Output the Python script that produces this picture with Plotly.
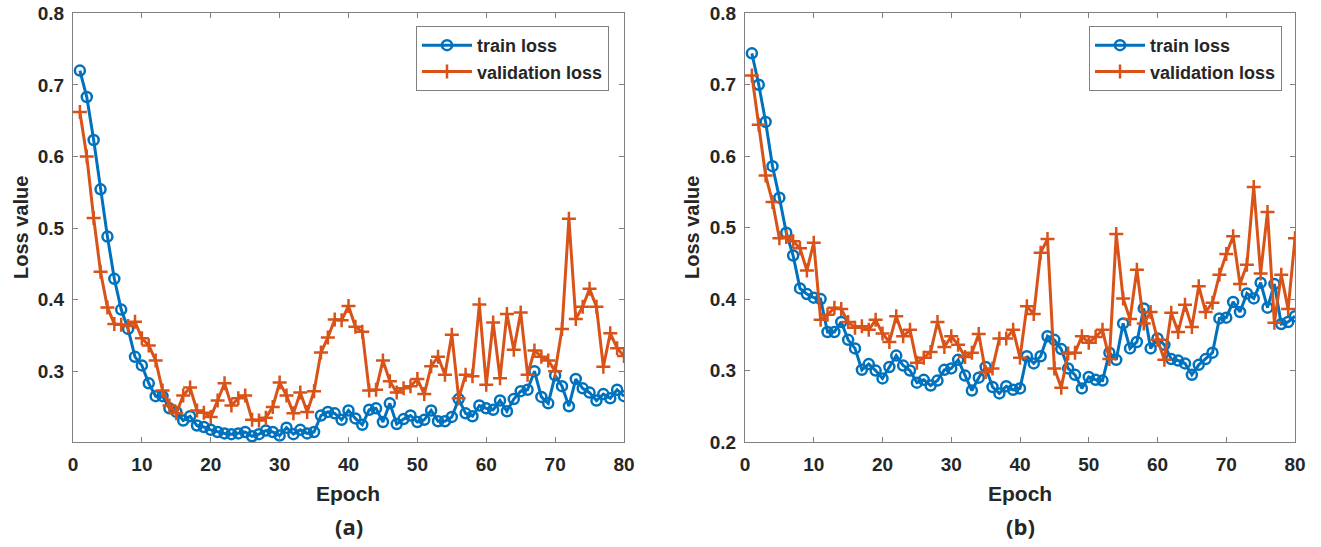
import plotly.graph_objects as go

epochs = list(range(1, 81))

train_a = [0.720, 0.683, 0.623, 0.554, 0.488, 0.429, 0.386, 0.359, 0.320, 0.308,
           0.283, 0.265, 0.265, 0.248, 0.243, 0.231, 0.237, 0.224, 0.222, 0.218,
           0.215, 0.213, 0.212, 0.213, 0.215, 0.209, 0.212, 0.217, 0.215, 0.210,
           0.221, 0.212, 0.218, 0.213, 0.215, 0.238, 0.243, 0.241, 0.232, 0.245,
           0.234, 0.225, 0.246, 0.248, 0.229, 0.255, 0.226, 0.233, 0.238, 0.229,
           0.232, 0.245, 0.230, 0.230, 0.236, 0.261, 0.241, 0.237, 0.252, 0.248,
           0.246, 0.259, 0.244, 0.261, 0.272, 0.274, 0.300, 0.264, 0.255, 0.294,
           0.279, 0.251, 0.289, 0.276, 0.270, 0.259, 0.268, 0.262, 0.274, 0.265]

val_a = [0.662, 0.600, 0.514, 0.439, 0.389, 0.366, 0.365, 0.363, 0.369, 0.346,
         0.336, 0.315, 0.273, 0.252, 0.241, 0.266, 0.277, 0.245, 0.242, 0.236,
         0.259, 0.283, 0.252, 0.262, 0.266, 0.232, 0.231, 0.235, 0.250, 0.284,
         0.266, 0.241, 0.270, 0.243, 0.272, 0.326, 0.347, 0.372, 0.371, 0.391,
         0.362, 0.355, 0.273, 0.274, 0.315, 0.286, 0.270, 0.276, 0.279, 0.289,
         0.268, 0.307, 0.320, 0.295, 0.351, 0.262, 0.295, 0.293, 0.393, 0.281,
         0.368, 0.290, 0.380, 0.330, 0.382, 0.295, 0.329, 0.320, 0.315, 0.300,
         0.359, 0.513, 0.373, 0.390, 0.415, 0.390, 0.306, 0.353, 0.332, 0.321]

train_b = [0.744, 0.700, 0.648, 0.586, 0.542, 0.493, 0.461, 0.415, 0.407, 0.402,
           0.400, 0.354, 0.354, 0.368, 0.343, 0.331, 0.301, 0.309, 0.300, 0.289,
           0.305, 0.321, 0.307, 0.300, 0.283, 0.287, 0.279, 0.286, 0.301, 0.303,
           0.315, 0.293, 0.272, 0.290, 0.305, 0.277, 0.268, 0.278, 0.273, 0.275,
           0.320, 0.310, 0.320, 0.348, 0.343, 0.330, 0.303, 0.294, 0.275, 0.291,
           0.287, 0.286, 0.325, 0.315, 0.366, 0.331, 0.340, 0.387, 0.331, 0.345,
           0.336, 0.316, 0.314, 0.310, 0.294, 0.308, 0.316, 0.325, 0.373, 0.374,
           0.396, 0.382, 0.408, 0.401, 0.423, 0.388, 0.421, 0.365, 0.368, 0.376]

val_b = [0.713, 0.644, 0.573, 0.536, 0.485, 0.487, 0.481, 0.471, 0.440, 0.479,
         0.371, 0.378, 0.388, 0.386, 0.368, 0.360, 0.362, 0.357, 0.371, 0.352,
         0.340, 0.376, 0.348, 0.357, 0.311, 0.318, 0.326, 0.368, 0.333, 0.348,
         0.336, 0.319, 0.325, 0.351, 0.298, 0.303, 0.345, 0.345, 0.357, 0.318,
         0.390, 0.379, 0.465, 0.484, 0.303, 0.276, 0.324, 0.325, 0.348, 0.339,
         0.347, 0.357, 0.316, 0.491, 0.401, 0.372, 0.441, 0.366, 0.382, 0.343,
         0.315, 0.381, 0.354, 0.392, 0.361, 0.418, 0.382, 0.395, 0.434, 0.463,
         0.488, 0.421, 0.448, 0.557, 0.436, 0.522, 0.367, 0.434, 0.386, 0.485]

x_ticks = [0, 10, 20, 30, 40, 50, 60, 70, 80]
y_ticks_a = [0.3, 0.4, 0.5, 0.6, 0.7, 0.8]
y_ticks_b = [0.2, 0.3, 0.4, 0.5, 0.6, 0.7, 0.8]
series_names = ["train loss", "validation loss"]
panel_labels = ["(a)", "(b)"]

W, H = 1321, 547

def fx(px):
    return px / W

def fy(py):
    return 1 - py / H

BLUE = "#0072BD"
ORANGE = "#D95319"
AX = "#808080"
TXT = "#262626"
sans = "Liberation Sans, Arial, sans-serif"

fig = go.Figure()

def add_pair(tr, va, xa, ya, leg):
    fig.add_trace(go.Scatter(
        x=epochs, y=tr, name=series_names[0], mode="lines+markers",
        xaxis=xa, yaxis=ya, legend=leg,
        line=dict(color=BLUE, width=3),
        marker=dict(symbol="circle-open", size=10, color=BLUE,
                    line=dict(color=BLUE, width=2.5))))
    fig.add_trace(go.Scatter(
        x=epochs, y=va, name=series_names[1], mode="lines+markers",
        xaxis=xa, yaxis=ya, legend=leg,
        line=dict(color=ORANGE, width=3),
        marker=dict(symbol="cross-thin", size=10, color=ORANGE,
                    line=dict(color=ORANGE, width=2.5))))

add_pair(train_a, val_a, "x", "y", "legend")
add_pair(train_b, val_b, "x2", "y2", "legend2")

tickfont = dict(family=sans, size=19, color=TXT, weight="bold")

def xax(dom):
    return dict(domain=dom, range=[0, 80], tickvals=x_ticks, ticks="inside",
                ticklen=5, tickcolor=AX, showline=True, linecolor=AX, linewidth=1,
                mirror="ticks", showgrid=False, zeroline=False, tickfont=tickfont,
                ticklabelstandoff=5, automargin=False)

def yax(rng, tv, anchor):
    return dict(domain=[fy(442), fy(13.3)], range=rng, tickvals=tv,
                ticktext=[f"{v:.1f}" for v in tv], ticks="inside", ticklen=5,
                tickcolor=AX, showline=True, linecolor=AX, linewidth=1,
                mirror="ticks", showgrid=False, zeroline=False, tickfont=tickfont,
                anchor=anchor, automargin=False, ticklabelstandoff=4)

leg_common = dict(bgcolor="white", bordercolor=AX, borderwidth=1,
                  font=dict(family=sans, size=18, color=TXT, weight="bold"),
                  xanchor="left", yanchor="top", itemwidth=50,
                  tracegroupgap=0)

fig.update_layout(
    width=W, height=H,
    margin=dict(l=0, r=0, t=0, b=0, autoexpand=False),
    paper_bgcolor="white", plot_bgcolor="white",
    showlegend=True,
    xaxis=xax([fx(73), fx(624)]) | dict(anchor="y"),
    yaxis=yax([0.201, 0.8], y_ticks_a, "x"),
    xaxis2=xax([fx(745), fx(1295)]) | dict(anchor="y2"),
    yaxis2=yax([0.2, 0.8], y_ticks_b, "x2"),
    legend=leg_common | dict(x=fx(416), y=fy(26)),
    legend2=leg_common | dict(x=fx(1089), y=fy(26)),
)

def ann(text, px, py, size, family, angle=0):
    fig.add_annotation(text=text, x=fx(px), y=fy(py),
                       xref="paper", yref="paper", showarrow=False,
                       textangle=angle, xanchor="center", yanchor="middle",
                       font=dict(family=family, size=size, color=TXT,
                                 weight="bold"))

ann("Epoch", 348, 493, 21, sans)
ann("Epoch", 1020, 493, 21, sans)
ann("Loss value", 21, 228, 20, sans, angle=-90)
ann("Loss value", 692, 228, 20, sans, angle=-90)
ann(panel_labels[0], 349, 526, 22, "Open Sans, Lato, sans-serif")
ann(panel_labels[1], 1020, 526, 22, "Open Sans, Lato, sans-serif")

fig.write_html(
    "out.html",
    config={"displayModeBar": False},
    post_script="document.body.style.margin='0px';"
                "document.body.style.overflow='hidden';",
)
